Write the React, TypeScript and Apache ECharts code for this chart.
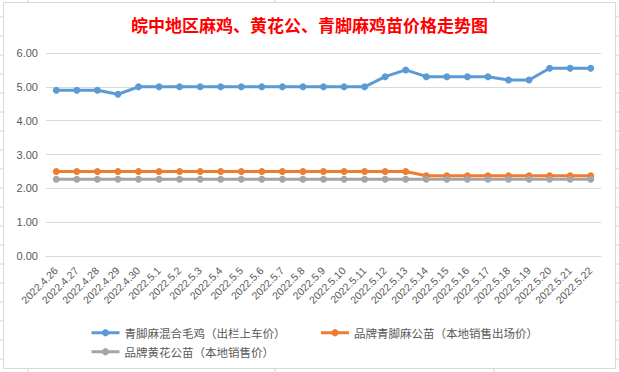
import React, { useEffect, useRef } from "react";
import * as echarts from "echarts";

const TITLE = "皖中地区麻鸡、黄花公、青脚麻鸡苗价格走势图";

const dates = [
  "2022.4.26", "2022.4.27", "2022.4.28", "2022.4.29", "2022.4.30",
  "2022.5.1", "2022.5.2", "2022.5.3", "2022.5.4", "2022.5.5", "2022.5.6",
  "2022.5.7", "2022.5.8", "2022.5.9", "2022.5.10", "2022.5.11", "2022.5.12",
  "2022.5.13", "2022.5.14", "2022.5.15", "2022.5.16", "2022.5.17", "2022.5.18",
  "2022.5.19", "2022.5.20", "2022.5.21", "2022.5.22",
];

const seriesNames = [
  "青脚麻混合毛鸡（出栏上车价）",
  "品牌青脚麻公苗（本地销售出场价）",
  "品牌黄花公苗（本地销售价）",
];

const mixedChicken = [
  4.9, 4.9, 4.9, 4.78, 5.0, 5.0, 5.0, 5.0, 5.0, 5.0, 5.0, 5.0, 5.0, 5.0,
  5.0, 5.0, 5.3, 5.5, 5.3, 5.3, 5.3, 5.3, 5.2, 5.2, 5.55, 5.55, 5.55,
];

const qingjiaoChick = [
  2.5, 2.5, 2.5, 2.5, 2.5, 2.5, 2.5, 2.5, 2.5, 2.5, 2.5, 2.5, 2.5, 2.5,
  2.5, 2.5, 2.5, 2.5, 2.37, 2.37, 2.37, 2.37, 2.37, 2.37, 2.37, 2.37, 2.37,
];

const huanghuaChick = [
  2.27, 2.27, 2.27, 2.27, 2.27, 2.27, 2.27, 2.27, 2.27, 2.27, 2.27, 2.27, 2.27, 2.27,
  2.27, 2.27, 2.27, 2.27, 2.27, 2.27, 2.27, 2.27, 2.27, 2.27, 2.27, 2.27, 2.27,
];

const colors = ["#5B9BD5", "#ED7D31", "#A5A5A5"];

const W = 619;
const H = 372;

export default function App() {
  const ref = useRef<HTMLDivElement>(null);

  useEffect(() => {
    if (!ref.current) return;
    const chart = echarts.init(ref.current, undefined, { renderer: "svg" });

    const stubColor = "#CDD2DA";
    const stubs: any[] = [];
    for (let y = 17; y < H; y += 19) {
      stubs.push({ type: "line", shape: { x1: 0, y1: y, x2: 3, y2: y }, style: { stroke: stubColor, lineWidth: 1 }, silent: true });
      stubs.push({ type: "line", shape: { x1: 616, y1: y, x2: 619, y2: y }, style: { stroke: stubColor, lineWidth: 1 }, silent: true });
    }
    [28, 275, 494].forEach((x) => {
      stubs.push({ type: "line", shape: { x1: x, y1: 0, x2: x, y2: 2 }, style: { stroke: stubColor, lineWidth: 1 }, silent: true });
      stubs.push({ type: "line", shape: { x1: x, y1: 369, x2: x, y2: 372 }, style: { stroke: stubColor, lineWidth: 1 }, silent: true });
    });

    const mkSeries = (name: string, data: number[], color: string) => ({
      name,
      type: "line",
      data,
      symbol: "circle",
      symbolSize: 7,
      itemStyle: { color },
      lineStyle: { color, width: 3 },
      emphasis: { disabled: true },
    });

    const legendText = {
      color: "#595959",
      fontSize: 11.5,
      fontFamily: "Noto Sans CJK SC",
    };

    const legendCommon = {
      left: 85,
      orient: "horizontal",
      itemWidth: 28,
      itemHeight: 9,
      lineStyle: { width: 3 },
      textStyle: legendText,
      selectedMode: false,
    };

    chart.setOption({
      animation: false,
      backgroundColor: "#FFFFFF",
      color: colors,
      title: {
        text: TITLE,
        left: "center",
        top: 11,
        textStyle: {
          color: "#FF0000",
          fontSize: 17,
          fontWeight: "bold",
          fontFamily: "Noto Sans CJK SC",
        },
      },
      graphic: [
        {
          type: "rect",
          shape: { x: 3.5, y: 2.5, width: 612, height: 366 },
          style: { fill: "none", stroke: "#D9D9D9", lineWidth: 1 },
          silent: true,
          z: -1,
        },
        ...stubs,
      ],
      legend: [
        {
          ...legendCommon,
          data: [seriesNames[0], seriesNames[1]],
          top: 322,
          itemGap: 34,
        },
        {
          ...legendCommon,
          data: [seriesNames[2]],
          top: 341,
        },
      ],
      grid: {
        left: 46,
        right: 18,
        top: 53,
        bottom: 116,
        containLabel: false,
      },
      xAxis: {
        type: "category",
        data: dates,
        boundaryGap: true,
        axisLine: { show: true, lineStyle: { color: "#D9D9D9", width: 1 } },
        axisTick: { show: false },
        axisLabel: {
          rotate: 45,
          interval: 0,
          margin: 13,
          color: "#595959",
          fontSize: 10.5,
          fontFamily: "Liberation Sans",
        },
      },
      yAxis: {
        type: "value",
        min: 0,
        max: 6,
        interval: 1,
        axisLine: { show: false },
        axisTick: { show: false },
        splitLine: { lineStyle: { color: "#D9D9D9", width: 1 } },
        axisLabel: {
          margin: 8,
          color: "#595959",
          fontSize: 11,
          fontFamily: "Liberation Sans",
          formatter: (v: number) => v.toFixed(2),
        },
      },
      series: [
        mkSeries(seriesNames[0], mixedChicken, colors[0]),
        mkSeries(seriesNames[1], qingjiaoChick, colors[1]),
        mkSeries(seriesNames[2], huanghuaChick, colors[2]),
      ],
    });

    return () => chart.dispose();
  }, []);

  return (
    <div
      ref={ref}
      style={{ position: "fixed", left: 0, top: 0, width: W, height: H }}
    />
  );
}
